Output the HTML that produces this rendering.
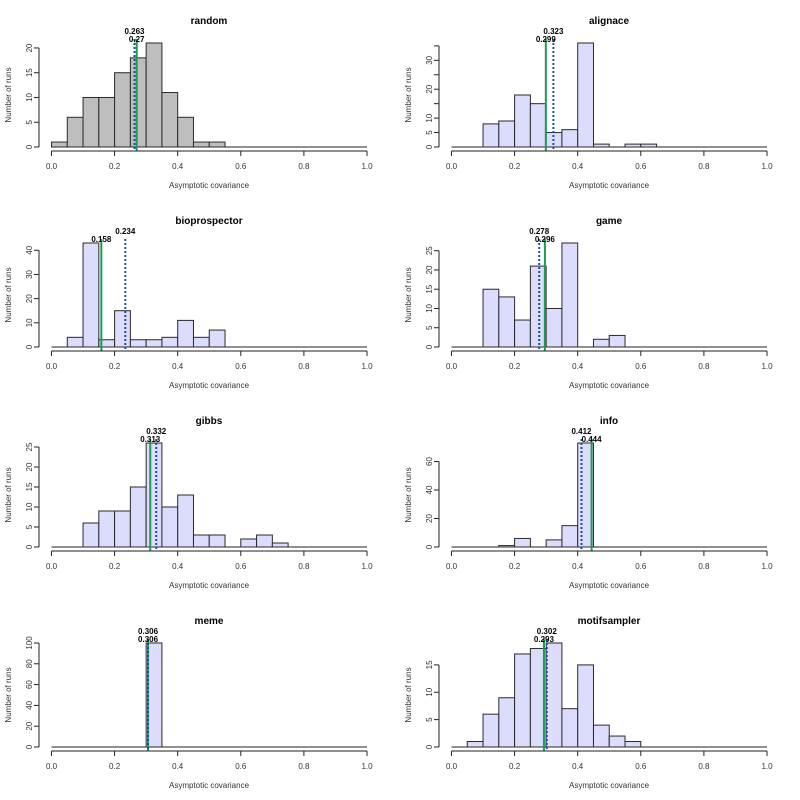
<!DOCTYPE html>
<html><head><meta charset="utf-8"><style>
html,body{margin:0;padding:0;background:#fff;}
svg{display:block;font-family:"Liberation Sans",sans-serif;}
</style></head><body>
<svg id="s" width="800" height="800" xmlns="http://www.w3.org/2000/svg"></svg>
<script>
var P=[
 {t:"random",fill:"#bebebe",c:[1,6,10,10,15,18,21,11,6,1,1],b:0.263,g:0.27,ticks:[0,5,10,15,20],labs:[0,5,10,15,20]},
 {t:"alignace",fill:"#dcdcfc",c:[0,0,8,9,18,15,5,6,36,1,0,1,1],b:0.323,g:0.299,ticks:[0,5,10,15,20,25,30,35],labs:[0,5,10,20,30]},
 {t:"bioprospector",fill:"#dcdcfc",c:[0,4,43,3,15,3,3,4,11,4,7],b:0.234,g:0.158,ticks:[0,10,20,30,40],labs:[0,10,20,30,40]},
 {t:"game",fill:"#dcdcfc",c:[0,0,15,13,7,21,10,27,0,2,3],b:0.278,g:0.296,ticks:[0,5,10,15,20,25],labs:[0,5,10,15,20,25]},
 {t:"gibbs",fill:"#dcdcfc",c:[0,0,6,9,9,15,26,10,13,3,3,0,2,3,1],b:0.332,g:0.313,ticks:[0,5,10,15,20,25],labs:[0,5,10,15,20,25]},
 {t:"info",fill:"#dcdcfc",c:[0,0,0,1,6,0,5,15,73],b:0.412,g:0.444,ticks:[0,20,40,60],labs:[0,20,40,60]},
 {t:"meme",fill:"#dcdcfc",c:[0,0,0,0,0,0,100],b:0.306,g:0.306,ticks:[0,20,40,60,80,100],labs:[0,20,40,60,80,100]},
 {t:"motifsampler",fill:"#dcdcfc",c:[0,1,6,9,17,18,19,7,15,4,2,1],b:0.302,g:0.293,ticks:[0,5,10,15],labs:[0,5,10,15]}
];
var h="";
P.forEach(function(p,i){
 var ox=(i%2)*400, oy=Math.floor(i/2)*200;
 var x0=ox+51.5, sx=315.5, y0=oy+147, mx=Math.max.apply(null,p.c), sy=104/mx;
 function X(v){return x0+v*sx;} function Y(v){return y0-v*sy;}
 h+='<text x="'+(ox+209)+'" y="'+(oy+24)+'" font-size="10" font-weight="bold" text-anchor="middle">'+p.t+'</text>';
 h+='<line x1="'+X(0)+'" y1="'+y0+'" x2="'+X(1)+'" y2="'+y0+'" stroke="#222" stroke-width="1"/>';
 p.c.forEach(function(v,k){ if(v>0){
   var xa=X(k*0.05), xb=X((k+1)*0.05);
   h+='<rect x="'+xa+'" y="'+Y(v)+'" width="'+(xb-xa)+'" height="'+(v*sy)+'" fill="'+p.fill+'" stroke="#2a2a2a" stroke-width="1"/>';
 }});
 var top=oy+39, bot=oy+151;
 h+='<line x1="'+X(p.g)+'" y1="'+top+'" x2="'+X(p.g)+'" y2="'+bot+'" stroke="#1f9a55" stroke-width="2"/>';
 h+='<line x1="'+X(p.b)+'" y1="'+top+'" x2="'+X(p.b)+'" y2="'+bot+'" stroke="#1f4fa0" stroke-width="2" stroke-dasharray="2,2"/>';
 h+='<text x="'+X(p.b)+'" y="'+(oy+34)+'" font-size="8" font-weight="bold" text-anchor="middle">'+p.b+'</text>';
 h+='<text x="'+X(p.g)+'" y="'+(oy+42)+'" font-size="8" font-weight="bold" text-anchor="middle">'+p.g+'</text>';
 // x axis
 h+='<line x1="'+X(0)+'" y1="'+bot+'" x2="'+X(1)+'" y2="'+bot+'" stroke="#222"/>';
 for(var t=0;t<=5;t++){var xv=X(t*0.2);
  h+='<line x1="'+xv+'" y1="'+bot+'" x2="'+xv+'" y2="'+(bot+5)+'" stroke="#222"/>';
  h+='<text x="'+xv+'" y="'+(oy+169)+'" font-size="8" fill="#333" text-anchor="middle">'+(t*0.2).toFixed(1)+'</text>';}
 h+='<text x="'+(ox+209)+'" y="'+(oy+188)+'" font-size="8" fill="#333" text-anchor="middle">Asymptotic covariance</text>';
 // y axis
 var ax=ox+39, tm=p.ticks[p.ticks.length-1];
 h+='<line x1="'+ax+'" y1="'+Y(0)+'" x2="'+ax+'" y2="'+Y(tm)+'" stroke="#222"/>';
 p.ticks.forEach(function(v){h+='<line x1="'+(ax-5)+'" y1="'+Y(v)+'" x2="'+ax+'" y2="'+Y(v)+'" stroke="#222"/>';});
 p.labs.forEach(function(v){h+='<text transform="translate('+(ox+32)+','+Y(v)+') rotate(-90)" font-size="8" fill="#333" text-anchor="middle">'+v+'</text>';});
 h+='<text transform="translate('+(ox+11)+','+(oy+95)+') rotate(-90)" font-size="8" fill="#333" text-anchor="middle">Number of runs</text>';
});
document.getElementById("s").innerHTML=h;
</script>
</body></html>
